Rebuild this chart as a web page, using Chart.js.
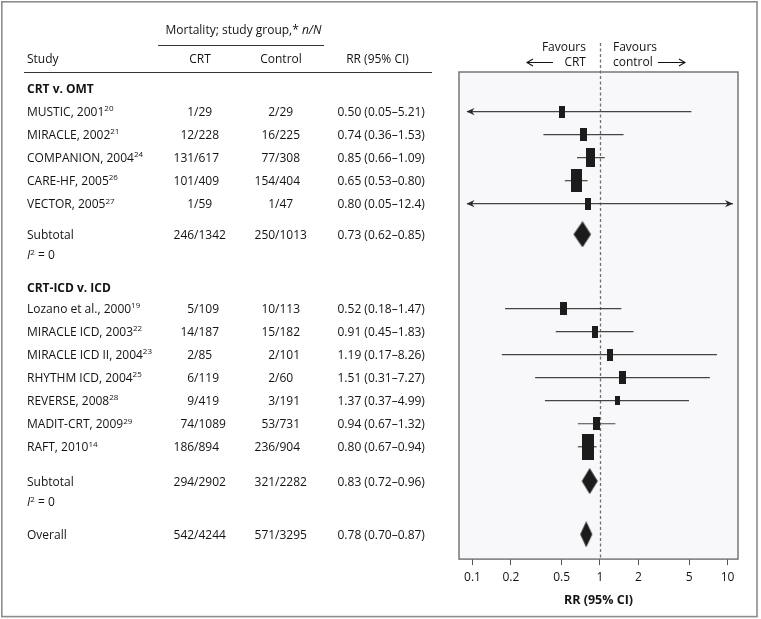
<!DOCTYPE html>
<html><head><meta charset="utf-8">
<script src="https://cdn.jsdelivr.net/npm/chart.js@4/dist/chart.umd.min.js"></script>
<style>html,body{margin:0;padding:0;background:#fff;}#wrap{width:761px;height:619px;position:relative;}</style>
</head><body><div id="wrap"><canvas id="c" width="761" height="619"></canvas></div>
<script>
// ---------- data ----------
const groupNames = ['CRT v. OMT', 'CRT-ICD v. ICD'];
const studies = ['MUSTIC, 2001', 'MIRACLE, 2002', 'COMPANION, 2004', 'CARE-HF, 2005', 'VECTOR, 2005',
  'Lozano et al., 2000', 'MIRACLE ICD, 2003', 'MIRACLE ICD II, 2004', 'RHYTHM ICD, 2004', 'REVERSE, 2008', 'MADIT-CRT, 2009', 'RAFT, 2010'];
const refs = ['20', '21', '24', '26', '27', '19', '22', '23', '25', '28', '29', '14'];
const studyGroup = [0, 0, 0, 0, 0, 1, 1, 1, 1, 1, 1, 1];
const crtDeaths = [1, 12, 131, 101, 1, 5, 14, 2, 6, 9, 74, 186];
const crtTotal = [29, 228, 617, 409, 59, 109, 187, 85, 119, 419, 1089, 894];
const ctrlDeaths = [2, 16, 77, 154, 1, 10, 15, 2, 2, 3, 53, 236];
const ctrlTotal = [29, 225, 308, 404, 47, 113, 182, 101, 60, 191, 731, 904];
const rr = [0.50, 0.74, 0.85, 0.65, 0.80, 0.52, 0.91, 1.19, 1.51, 1.37, 0.94, 0.80];
const lo = [0.05, 0.36, 0.66, 0.53, 0.05, 0.18, 0.45, 0.17, 0.31, 0.37, 0.67, 0.67];
const hi = [5.21, 1.53, 1.09, 0.80, 12.4, 1.47, 1.83, 8.26, 7.27, 4.99, 1.32, 0.94];
const studyWeights = [12, 13, 19, 23, 12, 13, 12, 12, 13, 9, 13, 26]; // relative weight (marker size in picture)
const pooledLabels = ['Subtotal', 'Subtotal', 'Overall'];
const pooledCrtDeaths = [246, 294, 542];
const pooledCrtTotal = [1342, 2902, 4244];
const pooledCtrlDeaths = [250, 321, 571];
const pooledCtrlTotal = [1013, 2282, 3295];
const pooledRR = [0.73, 0.83, 0.78];
const pooledLo = [0.62, 0.72, 0.70];
const pooledHi = [0.85, 0.96, 0.87];
const heterogeneityI2 = ['0', '0'];
const xTicks = [0.1, 0.2, 0.5, 1, 2, 5, 10];
const xTickLabels = ['0.1', '0.2', '0.5', '1', '2', '5', '10'];

// ---------- layout (row units) ----------
const HEAD_U = [0, 8.65], FIRST_U = [1, 9.55], SUB_U = [6.33, 17.04], HET_U = [7.22, 17.95], OVERALL_U = 19.35;
const studyU = studies.map((s, i) => {
  const g = studyGroup[i];
  return FIRST_U[g] + studyGroup.slice(0, i).filter(v => v === g).length;
});
const pooledU = [SUB_U[0], SUB_U[1], OVERALL_U];

const FONT = '"Open Sans", "Noto Sans", sans-serif';
const TXT = '#151213';
const TY = 1; // text baseline nudge

function fmt(v) { return v >= 10 ? v.toFixed(1) : v.toFixed(2); }

const boxImgs = studyWeights.map(w => {
  const c = document.createElement('canvas');
  c.height = Math.round(w);
  c.width = Math.round(1 + 0.44 * w);
  const g = c.getContext('2d');
  g.fillStyle = '#1c1c1c';
  g.fillRect(0, 0, c.width, c.height);
  return c;
});

function diamondImg(ctx) {
  const i = ctx.dataIndex;
  const xs = ctx.chart.scales && ctx.chart.scales.x;
  if (i === undefined || !xs || !xs.width) return 'rectRot';
  const pc = xs.getPixelForValue(pooledRR[i]);
  const pl = pc - xs.getPixelForValue(pooledLo[i]);
  const ph = xs.getPixelForValue(pooledHi[i]) - pc;
  const half = Math.ceil(Math.max(pl, ph)) + 1;
  const H = 26;
  const c = document.createElement('canvas');
  c.width = half * 2; c.height = H;
  const g = c.getContext('2d');
  g.fillStyle = '#1c1c1c';
  g.beginPath();
  g.moveTo(half - pl, H / 2); g.lineTo(half, 0); g.lineTo(half + ph, H / 2); g.lineTo(half, H);
  g.closePath(); g.fill();
  return c;
}

function textParts(ctx, x, y, parts, align) {
  let total = 0;
  const widths = parts.map(p => {
    ctx.font = (p.style || '') + ' ' + (p.size || 12) + 'px ' + FONT;
    const w = ctx.measureText(p.t).width; total += w; return w;
  });
  let cx = align === 'center' ? x - total / 2 : (align === 'right' ? x - total : x);
  ctx.textAlign = 'left';
  parts.forEach((p, k) => {
    ctx.font = (p.style || '') + ' ' + (p.size || 12) + 'px ' + FONT;
    ctx.fillText(p.t, cx, y + (p.dy || 0));
    cx += widths[k];
  });
}

function drawFrac(ctx, slashX, y, n, N) {
  ctx.font = '12px ' + FONT;
  ctx.textAlign = 'right'; ctx.fillText(n + '/', slashX, y);
  ctx.textAlign = 'left'; ctx.fillText(String(N), slashX, y);
}

function arrowHead(ctx, tx, y, dir) {
  ctx.beginPath();
  ctx.moveTo(tx, y);
  ctx.lineTo(tx + dir * 8, y - 3.6);
  ctx.lineTo(tx + dir * 5.5, y);
  ctx.lineTo(tx + dir * 8, y + 3.6);
  ctx.closePath(); ctx.fill();
}

const decor = {
  id: 'decor',
  beforeDraw(chart) {
    const ctx = chart.ctx, a = chart.chartArea;
    ctx.save();
    ctx.fillStyle = '#fff'; ctx.fillRect(0, 0, chart.width, chart.height);
    ctx.strokeStyle = '#8d8d8d'; ctx.lineWidth = 1.6;
    ctx.strokeRect(1.8, 1.8, 755.2, 614.8);
    ctx.fillStyle = '#f8f8fa';
    ctx.fillRect(a.left, a.top, a.right - a.left, a.bottom - a.top);
    ctx.restore();
  },
  beforeDatasetsDraw(chart) {
    const ctx = chart.ctx, a = chart.chartArea, x1 = chart.scales.x.getPixelForValue(1);
    ctx.save();
    ctx.strokeStyle = '#707070'; ctx.lineWidth = 1.3; ctx.setLineDash([3, 2.5]);
    ctx.beginPath(); ctx.moveTo(Math.round(x1) + 0.5, a.top - 29); ctx.lineTo(Math.round(x1) + 0.5, a.bottom); ctx.stroke();
    ctx.restore();
  },
  afterDraw(chart) {
    const ctx = chart.ctx, a = chart.chartArea, xs = chart.scales.x, ys = chart.scales.y;
    const Y = u => ys.getPixelForValue(u);
    const YT = u => ys.getPixelForValue(u) + TY;
    ctx.save();
    ctx.strokeStyle = '#6e6e6e'; ctx.lineWidth = 1.4;
    ctx.strokeRect(a.left, a.top, a.right - a.left, a.bottom - a.top);
    ctx.fillStyle = '#2a2a2a';
    studies.forEach((s, i) => {
      if (lo[i] < xs.min) arrowHead(ctx, a.left + 7.5, Y(studyU[i]), 1);
      if (hi[i] > xs.max) arrowHead(ctx, a.right - 5, Y(studyU[i]), -1);
    });
    const x1 = xs.getPixelForValue(1);
    ctx.fillStyle = TXT; ctx.textBaseline = 'middle';
    ctx.font = '12px ' + FONT;
    ctx.textAlign = 'right';
    ctx.fillText('Favours', x1 - 14, a.top - 24);
    ctx.fillText('CRT', x1 - 14, a.top - 9.5);
    ctx.textAlign = 'left';
    ctx.fillText('Favours', x1 + 13, a.top - 24);
    ctx.fillText('control', x1 + 13, a.top - 9.5);
    ctx.strokeStyle = TXT; ctx.lineWidth = 1.1;
    const ay = a.top - 9.5;
    ctx.beginPath();
    ctx.moveTo(x1 - 73, ay); ctx.lineTo(x1 - 47, ay);
    ctx.moveTo(x1 - 67, ay - 3.5); ctx.lineTo(x1 - 73, ay); ctx.lineTo(x1 - 67, ay + 3.5);
    ctx.moveTo(x1 + 58, ay); ctx.lineTo(x1 + 85, ay);
    ctx.moveTo(x1 + 79, ay - 3.5); ctx.lineTo(x1 + 85, ay); ctx.lineTo(x1 + 79, ay + 3.5);
    ctx.stroke();

    const hY1 = a.top - 41, hY2 = a.top - 12.2;
    textParts(ctx, 243.5, hY1, [{t: 'Mortality; study group,* '}, {t: 'n/N', style: 'italic'}], 'center');
    ctx.font = '12px ' + FONT;
    ctx.textAlign = 'left'; ctx.fillText('Study', 27, hY2);
    ctx.textAlign = 'center';
    ctx.fillText('CRT', 200, hY2);
    ctx.fillText('Control', 281, hY2);
    ctx.fillText('RR (95% CI)', 377.5, hY2);
    ctx.strokeStyle = '#333'; ctx.lineWidth = 1;
    ctx.beginPath(); ctx.moveTo(158, a.top - 26.5); ctx.lineTo(324, a.top - 26.5); ctx.stroke();
    ctx.lineWidth = 1.2;
    ctx.beginPath(); ctx.moveTo(24, a.top + 0.5); ctx.lineTo(432, a.top + 0.5); ctx.stroke();

    groupNames.forEach((g, k) => {
      ctx.font = 'bold 12px ' + FONT; ctx.textAlign = 'left';
      ctx.fillText(g, 27, YT(HEAD_U[k]));
    });
    studies.forEach((s, i) => {
      const y = YT(studyU[i]);
      textParts(ctx, 27, y, [{t: s}, {t: refs[i], size: 8, dy: -3.5}], 'left');
      drawFrac(ctx, 198.5, y, crtDeaths[i], crtTotal[i]);
      drawFrac(ctx, 279.5, y, ctrlDeaths[i], ctrlTotal[i]);
      ctx.font = '12px ' + FONT; ctx.textAlign = 'left';
      ctx.fillText(fmt(rr[i]) + ' (' + fmt(lo[i]) + '\u2013' + fmt(hi[i]) + ')', 337.5, y);
    });
    pooledLabels.forEach((lab, k) => {
      const y = YT(pooledU[k]);
      ctx.font = '12px ' + FONT; ctx.textAlign = 'left';
      ctx.fillText(lab, 27, y);
      drawFrac(ctx, 198.5, y, pooledCrtDeaths[k], pooledCrtTotal[k]);
      drawFrac(ctx, 279.5, y, pooledCtrlDeaths[k], pooledCtrlTotal[k]);
      ctx.font = '12px ' + FONT; ctx.textAlign = 'left';
      ctx.fillText(fmt(pooledRR[k]) + ' (' + fmt(pooledLo[k]) + '\u2013' + fmt(pooledHi[k]) + ')', 337.5, y);
    });
    heterogeneityI2.forEach((v, k) => {
      textParts(ctx, 27, YT(HET_U[k]), [{t: 'I', style: 'italic'}, {t: '2', size: 8, dy: -3.5}, {t: ' = ' + v}], 'left');
    });
    ctx.restore();
  }
};

const whiskers = studies.map((s, i) => ({
  type: 'line', label: s,
  data: [{x: lo[i], y: studyU[i]}, {x: hi[i], y: studyU[i]}],
  borderColor: '#444', borderWidth: 1.2, pointRadius: 0,
  clip: {left: -8, right: -5, top: 5, bottom: 5}, order: 3
}));

new Chart(document.getElementById('c'), {
  type: 'scatter',
  data: {
    datasets: [
      {type: 'scatter', label: 'Studies', data: rr.map((v, i) => ({x: v, y: studyU[i]})),
        pointStyle: c => (c.dataIndex === undefined ? 'rect' : boxImgs[c.dataIndex]), pointRadius: 4, order: 1},
      {type: 'scatter', label: 'Pooled', data: pooledRR.map((v, i) => ({x: v, y: pooledU[i]})),
        pointStyle: diamondImg, pointRadius: 4, order: 1},
      ...whiskers
    ]
  },
  options: {
    responsive: false, animation: false, events: [],
    layout: {padding: {left: 459, right: 23, top: 72, bottom: 9.5}},
    plugins: {legend: {display: false}, tooltip: {enabled: false}},
    scales: {
      x: {
        type: 'logarithmic', min: 0.0784, max: 12.09, bounds: 'data',
        afterBuildTicks: s => { s.ticks = xTicks.map(v => ({value: v})); },
        ticks: {autoSkip: false, maxRotation: 0, padding: 5, color: TXT,
          font: {family: FONT, size: 12},
          callback: v => { const k = xTicks.indexOf(v); return k >= 0 ? xTickLabels[k] : ''; }},
        grid: {display: true, drawOnChartArea: false, drawTicks: true, tickLength: 6, color: '#555', lineWidth: 1},
        border: {display: false},
        title: {display: true, text: 'RR (95% CI)', color: TXT, font: {family: FONT, size: 12.5, weight: 'bold'}, padding: {top: 3, bottom: 2}}
      },
      y: {type: 'linear', display: false, reverse: true, min: -0.7177, max: 20.426}
    }
  },
  plugins: [decor]
});
</script></body></html>
